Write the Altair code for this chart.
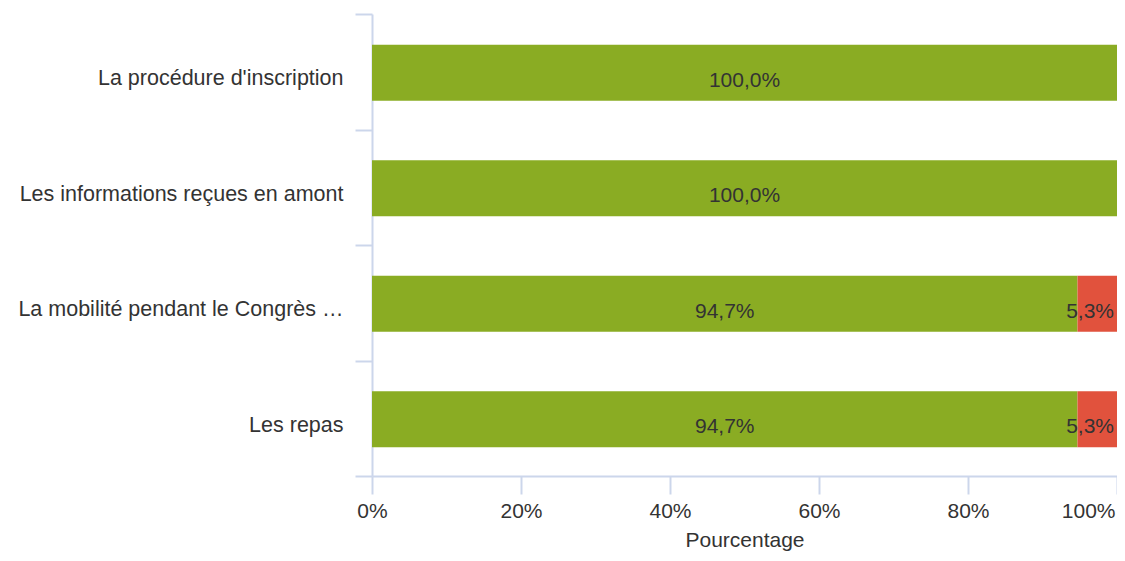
import altair as alt
import pandas as pd

categories = [
    "La procédure d'inscription",
    "Les informations reçues en amont",
    "La mobilité pendant le Congrès …",
    "Les repas",
]
series = ["Satisfait", "Pas satisfait"]
green_values = [1.0, 1.0, 0.947, 0.947]
red_values = [0.0, 0.0, 0.053, 0.053]
colors = ["#8aac23", "#e1523d"]
x_ticks = [0, 0.2, 0.4, 0.6, 0.8, 1.0]

rows = []
for c, g, r in zip(categories, green_values, red_values):
    rows.append({"cat": c, "serie": series[0], "start": 0.0, "end": g, "value": g})
    if r > 0:
        rows.append({"cat": c, "serie": series[1], "start": g, "end": g + r, "value": r})
df = pd.DataFrame(rows)

FONT = "Liberation Sans"
AXIS_COLOR = "#ccd6eb"

base = alt.Chart(df).transform_calculate(
    label="replace(format(datum.value, '.1%'), '.', ',')",
    mid="(datum.start + datum.end) / 2",
)

y_enc = alt.Y(
    "cat:N",
    sort=categories,
    scale=alt.Scale(paddingInner=0, paddingOuter=0),
    axis=alt.Axis(
        title=None,
        domainColor=AXIS_COLOR,
        domainWidth=2,
        tickColor=AXIS_COLOR,
        tickWidth=2,
        tickSize=17,
        tickBand="extent",
        labelFont=FONT,
        labelFontSize=21.5,
        labelColor="#333333",
        labelPadding=12,
        labelOffset=7,
        labelLimit=400,
    ),
)

x_scale = alt.Scale(domain=[0, 1], nice=False, zero=True)

bars = base.mark_bar(size=56, yOffset=1).encode(
    y=y_enc,
    x=alt.X(
        "start:Q",
        scale=x_scale,
        axis=alt.Axis(
            title="Pourcentage",
            values=x_ticks,
            format=".0%",
            grid=False,
            domain=True,
            domainColor=AXIS_COLOR,
            domainWidth=2,
            tickColor=AXIS_COLOR,
            tickWidth=2,
            tickSize=18,
            labelFont=FONT,
            labelFontSize=21,
            labelColor="#333333",
            labelPadding=6,
            labelAlign={"condition": {"test": "datum.value >= 1", "value": "right"}, "value": "center"},
            labelOffset={"condition": {"test": "datum.value >= 1", "value": -2}, "value": 0},
            titleFont=FONT,
            titleFontSize=21,
            titleFontWeight="normal",
            titleColor="#333333",
            titlePadding=8,
        ),
    ),
    x2="end:Q",
    color=alt.Color("serie:N", scale=alt.Scale(domain=series, range=colors), legend=None),
)

text_green = base.transform_filter(alt.datum.serie == series[0]).mark_text(
    font=FONT, fontSize=21, color="#333333", align="center", baseline="middle", dy=9
).encode(
    y=alt.Y("cat:N", sort=categories),
    x=alt.X("mid:Q", scale=x_scale),
    text="label:N",
)

text_red = base.transform_filter(alt.datum.serie == series[1]).mark_text(
    font=FONT, fontSize=21, color="#333333", align="right", baseline="middle", dy=9, dx=-3
).encode(
    y=alt.Y("cat:N", sort=categories),
    x=alt.X("end:Q", scale=x_scale),
    text="label:N",
)

chart = (
    alt.layer(bars, text_green, text_red)
    .properties(
        width=745,
        height=462,
        autosize=alt.AutoSizeParams(type="none"),
        padding={"left": 364, "top": 6, "right": 0, "bottom": 77},
    )
    .configure_view(stroke=None)
)

chart.save("out.html", embed_options={"renderer": "svg", "actions": False})
